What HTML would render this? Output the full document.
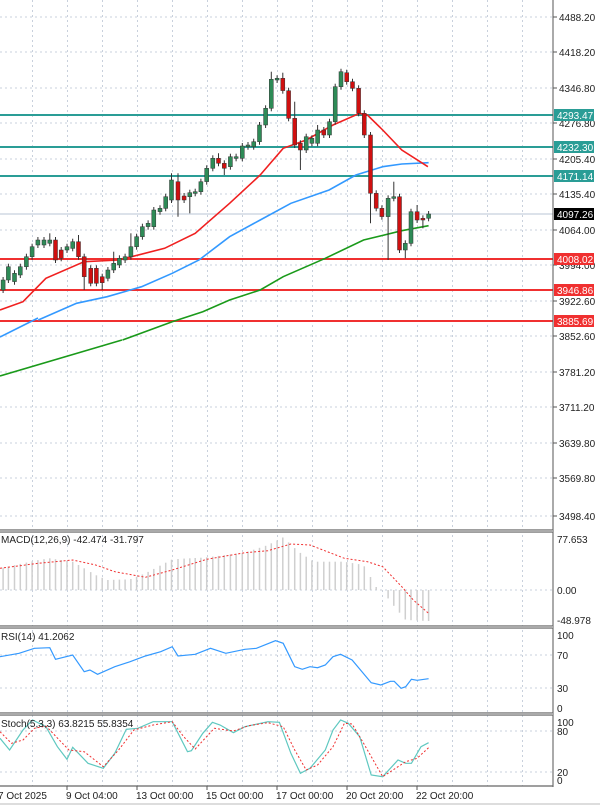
<!DOCTYPE html>
<html><head><meta charset="utf-8"><style>
html,body{margin:0;padding:0;background:#fff;}
#c{width:600px;height:805px;overflow:hidden;}
text{font-family:"Liberation Sans",sans-serif;font-size:10px;fill:#222;}
</style></head><body><div id="c"></div>
<script>
var X=function(z){return z/2.613;};
var Y1=function(z){return 60+z/3;};
var Y2=function(z){return 520+z/3;};
var s='<svg xmlns="http://www.w3.org/2000/svg" width="600" height="805" viewBox="0 0 600 805">';
s+='<rect width="600" height="805" fill="#fff"/>';
for(var gx=32.5;gx<553;gx+=35){s+='<line x1="'+gx+'" y1="0" x2="'+gx+'" y2="786" stroke="#c8d0dc" stroke-width="1" stroke-dasharray="2,3"/>';}
var pl=[[4488.20,17],[4418.20,52],[4346.80,88],[4276.80,123],[4205.40,159],[4135.40,194],[4064.00,230],[3994.00,265],[3922.60,301],[3852.60,336],[3781.20,372],[3711.20,407],[3639.80,443],[3569.80,478],[3498.40,516]];
pl.forEach(function(p){s+='<line x1="0" y1="'+p[1]+'" x2="553" y2="'+p[1]+'" stroke="#c8d0dc" stroke-dasharray="2,3"/>';s+='<line x1="553" y1="'+p[1]+'" x2="557" y2="'+p[1]+'" stroke="#555"/>';s+='<text x="559" y="'+(p[1]+4)+'">'+p[0].toFixed(2)+'</text>';});
s+='<line x1="0" y1="214" x2="553" y2="214" stroke="#b8c4d4" stroke-width="1"/>';
[[115,'#2a9d96'],[147,'#2a9d96'],[176,'#2a9d96'],[259,'#f03030'],[290,'#f03030'],[321,'#f03030']].forEach(function(l){s+='<line x1="0" y1="'+l[0]+'" x2="553" y2="'+l[0]+'" stroke="'+l[1]+'" stroke-width="2"/>';});
function pline(pts,fy,col,w,dash){var d=pts.map(function(p){return X(p[0]).toFixed(1)+','+fy(p[1]).toFixed(1);}).join(' ');return '<polyline points="'+d+'" fill="none" stroke="'+col+'" stroke-width="'+w+'"'+(dash?' stroke-dasharray="'+dash+'"':'')+'/>';}
s+='<polyline points="0,376 122,340" fill="none" stroke="#1a9a1a" stroke-width="1.6"/>';
s+=pline([[320,840],[450,785],[530,755],[600,720],[680,690],[740,650],[850,595],[950,540],[1050,512],[1120,497]],Y1,'#1a9a1a',1.6);
s+='<polyline points="0,337 38,318" fill="none" stroke="#3399ff" stroke-width="1.6"/>';
s+=pline([[100,780],[200,730],[280,710],[370,680],[450,640],[520,600],[600,530],[680,480],[760,430],[860,390],[930,345],[1000,320],[1050,312],[1120,308]],Y1,'#3399ff',1.6);
s+=pline([[0,750],[60,725],[120,655],[220,605],[310,600],[430,565],[510,520],[600,430],[680,345],[740,265],[800,240],[870,195],[940,160],[960,165],[1000,210],[1050,270],[1118,320]],Y1,'#f02020',1.6);
var C=[[8,660,690,1],[22,620,660,1],[38,640,665,1],[53,620,645,1],[69,590,620,1],[84,560,590,1],[99,540,555,1],[115,540,555,1],[130,540,550,1,520],[145,540,600,0],[160,570,595,0],[175,560,570,1],[190,545,565,1],[205,545,590,0,525],[220,590,650,0,0,690],[237,625,670,0],[252,625,670,0],[267,650,668,0,0,690],[282,630,655,1],[297,610,630,1,575],[312,595,615,1],[327,590,600,1],[342,560,590,1,520],[357,530,560,1],[372,500,530,1],[387,490,500,1],[402,450,500,1],[418,445,455,1],[433,410,445,1],[448,360,420,1,340],[465,365,420,0,340,470],[481,408,420,0],[496,398,410,1,0,460],[510,395,400,1],[525,365,395,1],[540,325,365,1],[556,295,325,1],[571,295,310,0,280],[586,310,325,0,0,345],[602,290,320,1],[617,290,295,1],[633,258,295,1],[648,255,260,1],[663,245,260,1],[678,195,245,1],[694,145,195,1],[709,58,145,1,35],[724,55,60,1],[739,55,92,0,38],[754,92,175,0],[770,175,255,0,125],[785,250,270,0,0,330],[800,230,270,1],[815,235,250,1],[830,210,250,1,195],[846,210,225,0],[861,185,225,1],[876,80,185,1],[891,35,80,1],[906,38,65,0],[921,65,85,0],[937,85,160,0],[952,160,225,0],[968,225,400,0,0,490],[983,400,445,0],[998,445,470,0],[1014,415,470,1,0,600],[1029,410,415,1,365],[1044,410,570,0],[1059,550,570,1,0,595],[1074,455,550,1],[1090,455,480,0,435],[1105,475,480,0,0,505],[1120,462,475,1]];
C.forEach(function(c){var x=X(c[0]);var t=Y1(c[1]),b=Y1(c[2]);var hi=c[4]?Y1(c[4]):t-3,lo=c[5]?Y1(c[5]):b+3;
s+='<line x1="'+x.toFixed(1)+'" y1="'+hi.toFixed(1)+'" x2="'+x.toFixed(1)+'" y2="'+lo.toFixed(1)+'" stroke="#333" stroke-width="1"/>';
s+='<rect x="'+(x-2).toFixed(1)+'" y="'+t.toFixed(1)+'" width="4" height="'+Math.max(1,b-t).toFixed(1)+'" fill="'+(c[3]?'#2e8b57':'#d01010')+'" stroke="#333" stroke-width="0.5"/>';});
function lab(y,txt,bg,fg){s+='<rect x="554" y="'+(y-6)+'" width="40" height="12" fill="'+bg+'"/><text x="557" y="'+(y+4)+'" style="fill:'+fg+'">'+txt+'</text>';}
lab(115,'4293.47','#2a9d96','#fff');lab(147,'4232.30','#2a9d96','#fff');lab(176,'4171.14','#2a9d96','#fff');lab(214,'4097.26','#000','#fff');lab(259,'4008.02','#f03030','#fff');lab(290,'3946.86','#f03030','#fff');lab(321,'3885.69','#f03030','#fff');
s+='<line x1="553" y1="0" x2="553" y2="787" stroke="#555"/>';
[530,532,626,628,713,715,786].forEach(function(y){s+='<line x1="0" y1="'+y+'" x2="553" y2="'+y+'" stroke="#666" stroke-width="1.2"/>';});
s+='<rect x="0" y="530" width="553" height="2" fill="#aaa"/><rect x="0" y="626" width="553" height="2" fill="#aaa"/><rect x="0" y="713" width="553" height="2" fill="#aaa"/>';
s+='<line x1="0" y1="590" x2="553" y2="590" stroke="#c8d0dc" stroke-dasharray="2,3"/>';
var hk=[[0,145],[100,120],[130,115],[190,125],[250,165],[280,180],[340,178],[380,160],[450,118],[540,112],[640,98],[700,75],[740,52],[780,95],[820,125],[900,125],[950,135],[985,205],[1000,212],[1020,245],[1060,300],[1120,303]];
function interp(k,x){for(var i=0;i<k.length-1;i++){if(x>=k[i][0]&&x<=k[i+1][0]){var f=(x-k[i][0])/(k[i+1][0]-k[i][0]);return k[i][1]+f*(k[i+1][1]-k[i][1]);}}return k[k.length-1][1];}
C.forEach(function(c){var x=X(c[0]);var t=Y2(interp(hk,c[0]));s+='<line x1="'+x.toFixed(1)+'" y1="590" x2="'+x.toFixed(1)+'" y2="'+t.toFixed(1)+'" stroke="#cfcfcf" stroke-width="1.5"/>';});
s+=pline([[0,145],[100,130],[190,120],[250,135],[300,155],[380,172],[450,150],[540,118],[640,98],[700,92],[760,72],[810,75],[900,115],[960,125],[1000,140],[1050,200],[1080,240],[1120,280]],Y2,'#f03030',1,'2,2');
s+='<text x="1" y="543">MACD(12,26,9) -42.474 -31.797</text>';
s+='<text x="557" y="543">77.653</text><text x="557" y="594">0.00</text><text x="557" y="624">-48.978</text>';
[655,688].forEach(function(y){s+='<line x1="0" y1="'+y+'" x2="553" y2="'+y+'" stroke="#c8d0dc" stroke-dasharray="2,3"/>';});
s+=pline([[0,410],[50,400],[90,385],[130,383],[145,418],[190,405],[220,455],[235,450],[255,463],[300,440],[340,425],[380,408],[420,395],[450,380],[465,408],[510,403],[550,385],[590,400],[640,388],[670,385],[720,362],[740,370],[770,440],[790,448],[810,440],[830,443],[850,435],[870,410],[890,403],[920,420],[970,488],[995,495],[1020,484],[1030,484],[1048,505],[1060,500],[1075,478],[1090,481],[1120,476]],Y2,'#3399ff',1.2);
s+='<text x="1" y="640">RSI(14) 41.2062</text>';
s+='<text x="557" y="639">100</text><text x="557" y="659">70</text><text x="557" y="692">30</text><text x="557" y="712">0</text>';
[731,772].forEach(function(y){s+='<line x1="0" y1="'+y+'" x2="553" y2="'+y+'" stroke="#c8d0dc" stroke-dasharray="2,3"/>';});
s+=pline([[0,655],[25,690],[60,630],[85,600],[120,620],[150,680],[175,718],[190,682],[230,730],[270,745],[300,700],[330,628],[360,625],[400,605],[450,605],[490,695],[500,692],[530,640],[555,607],[575,615],[610,638],[640,620],[700,605],[730,607],[760,700],[785,760],[810,745],[850,690],[870,630],[890,600],[910,610],[940,650],[970,765],[1000,770],[1040,720],[1060,730],[1075,730],[1100,680],[1120,668]],Y2,'#5fc8c0',1.2);
s+=pline([[0,635],[30,670],[60,660],[90,625],[120,618],[180,690],[220,695],[270,740],[310,690],[350,630],[400,615],[450,605],[480,650],[510,687],[560,625],[610,633],[650,617],[700,608],[740,620],[770,690],[800,750],[830,735],[870,680],[900,610],[920,612],[950,670],[1000,770],[1040,740],[1060,725],[1090,715],[1120,683]],Y2,'#f03030',1,'2,2');
s+='<text x="1" y="727">Stoch(5,3,3) 63.8215 55.8354</text>';
s+='<text x="557" y="726">100</text><text x="557" y="735">80</text><text x="557" y="776">20</text><text x="557" y="784">0</text>';
[['7 Oct 2025',-2],['9 Oct 04:00',66],['13 Oct 00:00',136],['15 Oct 00:00',206],['17 Oct 00:00',276],['20 Oct 20:00',346],['22 Oct 20:00',416]].forEach(function(d){s+='<line x1="'+(d[1]+1)+'" y1="786" x2="'+(d[1]+1)+'" y2="790" stroke="#555"/><text x="'+d[1]+'" y="799">'+d[0]+'</text>';});
s+='<rect x="0" y="803" width="600" height="2" fill="#ddd"/>';
s+='</svg>';
document.getElementById('c').innerHTML=s;
</script></body></html>
